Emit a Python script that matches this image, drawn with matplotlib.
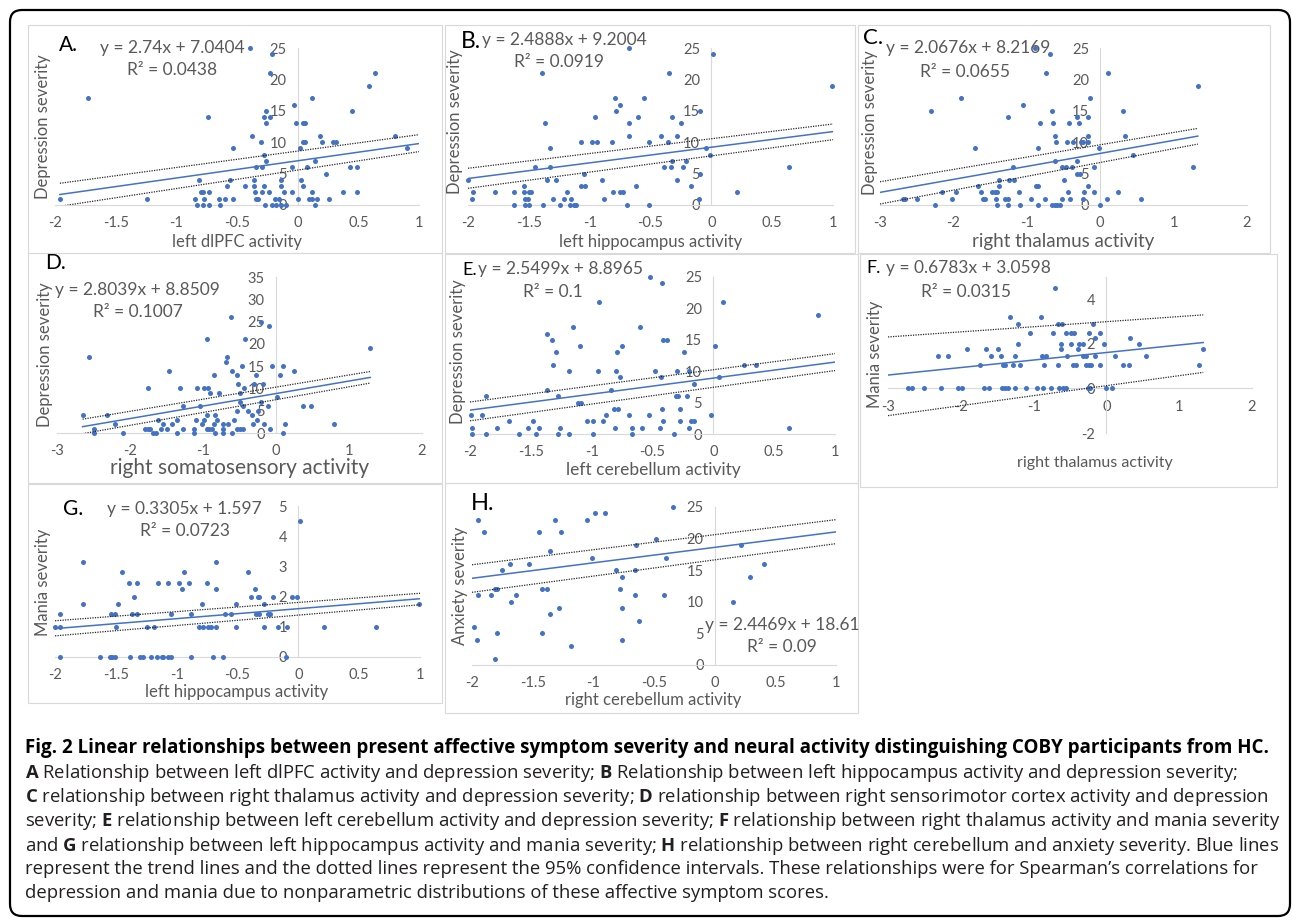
import matplotlib
matplotlib.use('Agg')
import matplotlib.pyplot as plt
from matplotlib.patches import FancyBboxPatch, Rectangle
from matplotlib.ticker import FuncFormatter

plt.rcParams['font.family'] = ['Lato', 'DejaVu Sans']
plt.rcParams['mathtext.fontset'] = 'custom'
plt.rcParams['mathtext.rm'] = 'Open Sans'
plt.rcParams['mathtext.bf'] = 'Open Sans:bold'

# ---- data ----
# A: left dlPFC vs depression
a_x = [-0.39, -0.21, -0.23, 0.64, 0.59, -1.73, 0.12, -0.03, -0.26, 0.45,
       -0.74, -0.28, -0.23, -0.26, -0.01, 0.04, 0.06, -0.38, 0.18, 0.80,
       -0.30, 0.04, 0.06, 0.20, 0.29, 0.32, -0.53, 0.02, 0.90, -0.28,
       -0.26, 0.14, -0.34, -0.29, -0.05, 0.08, 0.43, 0.49, 0.23, -0.81,
       -0.56, -0.36, -0.14, 0.03, -0.58, -0.43, -0.36, -0.28, -0.14, 0.04,
       -0.80, -0.78, -0.73, -0.35, -0.29, -0.24, -0.11, -0.05, 0.12, 0.37, 0.49,
       -1.96, -1.24, -0.85, -0.77, -0.65, -0.60, -0.53, -0.34, -0.33, -0.19, -0.15, 0.0, 0.09, 0.12, 0.16, 0.26,
       -0.83, -0.78, -0.73, -0.64, -0.27, -0.21, -0.18, -0.14, -0.10, 0.14]
a_y = [25, 24, 21, 21, 19, 17, 17, 16, 15, 15,
       14, 14, 14, 13, 13, 13, 13, 11, 11, 11,
       10, 10, 10, 10, 10, 10, 9, 9, 9, 8,
       7, 7, 6, 6, 6, 6, 6, 6, 5, 4,
       4, 4, 4, 4, 3, 3, 3, 3, 3, 3,
       2, 2, 2, 2, 2, 2, 2, 2, 2, 2, 2,
       1, 1, 1, 1, 1, 1, 1, 1, 1, 1, 1, 1, 1, 1, 1, 1,
       0, 0, 0, 0, 0, 0, 0, 0, 0, 0]

# B: left hippocampus vs depression
b_x = [-0.68, 0.01, -1.39, -0.35, 0.99, -0.79, -0.55, -0.75, -0.78, -0.09,
       -0.96, -0.60, -0.32, -1.37, -0.68, -0.25, -0.68, -0.41, -0.28,
       -1.07, -0.98, -0.94, -0.82, -0.51, -0.36, -1.33, -0.04, -0.01, -0.32, -0.21,
       -1.45, -1.33, -0.39, -0.33, -0.23, 0.64, -1.05, -0.09,
       -2.0, -1.35, -1.28, -0.90, -0.28, -1.54, -1.07, -1.04, -0.62, -0.17,
       -1.96, -1.78, -1.62, -1.54, -1.50, -1.48, -1.19, -0.81, -0.75, -0.73, 0.21,
       -1.97, -1.53, -1.51, -1.30, -1.21, -1.15, -0.88, -0.10,
       -1.62, -1.53, -1.50, -1.38, -1.24, -1.16, -1.13, -1.11, -0.69, -0.51]
b_y = [25, 24, 21, 21, 19, 17, 17, 16, 15, 15,
       14, 14, 14, 13, 13, 13, 11, 11, 11,
       10, 10, 10, 10, 10, 10, 9, 9, 8, 7, 7,
       6, 6, 6, 6, 6, 6, 5, 5,
       4, 4, 4, 4, 4, 3, 3, 3, 3, 3,
       2, 2, 2, 2, 2, 2, 2, 2, 2, 2, 2,
       1, 1, 1, 1, 1, 1, 1, 1,
       0, 0, 0, 0, 0, 0, 0, 0, 0, 0]

# C: right thalamus vs depression
c_x = [-0.89, -0.68, -0.74, 0.11, 1.33, -1.90, -0.14, -1.05, -2.30, -0.66, 0.31,
       -1.25, -0.32, -0.16, -0.82, -0.64, -0.42, -0.29, -0.61, -0.17, 0.34,
       -0.60, -0.45, -0.37, -0.26, -0.23, -0.16, -1.70, -0.85, -0.02, 0.45, -0.61, -0.32,
       -1.19, -0.52, -0.47, -0.38, -0.08, 1.27, -0.31, -0.27,
       -1.38, -1.24, -1.17, -0.49, -1.66, -1.38, -0.88, -0.85, -0.16,
       -2.15, -1.97, -1.63, -1.48, -1.43, -1.40, -1.10, -0.44, -0.22, -0.09, 0.24,
       -2.68, -2.66, -2.49, -2.02, -1.60, -1.57, -1.42, -1.30, -1.25, -0.94, -0.75, -0.52, -0.41, -0.23, 0.09, 0.55,
       -2.25, -1.41, -1.26, -1.09, -0.85, -0.66, -0.62, -0.59, -0.55, 0.0]
c_y = [25, 24, 21, 21, 19, 17, 17, 16, 15, 15, 15,
       14, 14, 14, 13, 13, 13, 13, 11, 11, 11,
       10, 10, 10, 10, 10, 10, 9, 9, 9, 8, 7, 7,
       6, 6, 6, 6, 6, 6, 5, 5,
       4, 4, 4, 4, 3, 3, 3, 3, 3,
       2, 2, 2, 2, 2, 2, 2, 2, 2, 2, 2,
       1, 1, 1, 1, 1, 1, 1, 1, 1, 1, 1, 1, 1, 1, 1, 1,
       0, 0, 0, 0, 0, 0, 0, 0, 0, 0]

# D: right somatosensory vs depression
d_x = [-0.61, -0.21, -0.10, -0.95, -0.42, 1.29, -2.56, -0.67, -0.69,
       -0.47, -0.05, 0.10, -1.47, -0.60, 0.24, -0.85, -0.54, -0.27, 0.06,
       -0.52, -0.30, -0.18, -1.76, -1.31, -1.08, -0.98, -0.93, -0.44,
       -0.91, -0.78, -0.49, 0.02, -0.50, -0.21,
       -1.28, -1.04, -0.45, -0.11, 0.37, 0.48, -0.53, -0.38, -0.25,
       -2.65, -2.32, -0.94, -0.84, -0.33,
       -1.61, -1.36, -1.10, -0.98, -0.81, -0.57, -0.26,
       -2.21, -1.55, -1.42, -1.01, -0.85, -0.73, -0.66, -0.32, -0.17, 0.13, 0.80,
       -2.50, -1.80, -1.76, -1.72, -1.57, -1.50, -1.28, -1.12, -0.94, -0.92, -0.88, -0.73, -0.53, -0.49, -0.45, -0.08,
       -2.50, -2.09, -1.68, -1.65, -1.36, -1.12, -0.83, -0.72, -0.60, 0.09]
d_y = [26, 25, 24, 21, 21, 19, 17, 17, 16,
       15, 15, 15, 14, 14, 14, 13, 13, 13, 13,
       11, 11, 11, 10, 10, 10, 10, 10, 10,
       9, 9, 9, 8, 7, 7,
       6, 6, 6, 6, 6, 6, 5, 5, 5,
       4, 4, 4, 4, 4,
       3, 3, 3, 3, 3, 3, 3,
       2, 2, 2, 2, 2, 2, 2, 2, 2, 2, 2,
       1, 1, 1, 1, 1, 1, 1, 1, 1, 1, 1, 1, 1, 1, 1, 1,
       0, 0, 0, 0, 0, 0, 0, 0, 0, 0]

# E: left cerebellum vs depression
e_x = [-0.52, -0.42, -0.94, 0.08, 0.86, -1.15, -0.60, -1.37,
       -1.33, -0.41, -0.38, -1.10, -0.75, 0.01, -1.29, -0.79, -0.24,
       -1.32, 0.25, 0.35, -1.19, -0.95, -0.80, -0.48, -0.30, -0.20,
       -0.77, -0.43, 0.05, -0.16, -1.37, -0.84,
       -1.87, -1.28, -0.31, -0.29, -0.22, -1.11, -1.09,
       -0.82, -0.78, -0.42, -0.27, -1.99, -1.90, -0.88, -0.69, -0.53, -0.02,
       -1.68, -1.48, -1.04, -0.99, -0.91, -0.41, -0.27, -0.18, -0.16,
       -1.98, -1.78, -1.52, -1.43, -1.26, -0.81, -0.67, -0.59, -0.44, -0.20, 0.62,
       -1.98, -1.87, -1.60, -1.46, -1.28, -1.19, -0.99, -0.67, -0.32]
e_y = [25, 24, 21, 21, 19, 17, 17, 16,
       15, 15, 15, 14, 14, 14, 13, 13, 13,
       11, 11, 11, 10, 10, 10, 10, 10, 10,
       9, 9, 9, 8, 7, 7,
       6, 6, 6, 6, 6, 5, 5,
       4, 4, 4, 4, 3, 3, 3, 3, 3, 3,
       2, 2, 2, 2, 2, 2, 2, 2, 2,
       1, 1, 1, 1, 1, 1, 1, 1, 1, 1, 1,
       0, 0, 0, 0, 0, 0, 0, 0, 0]

# F: right thalamus vs mania
f_x = [-0.70, -1.33, -0.90, -1.21, -0.66, -0.61, -0.18,
       -1.05, -0.74, -0.55, -0.49, -0.44, -0.24, -0.09, -0.16, 0.33,
       -1.22, -0.63, -0.48, -0.38, -0.32, -0.03, 0.45,
       -1.92, -1.65, -1.49, -0.63, -0.39, 1.33,
       -2.32, -2.17, -1.58, -1.45, -1.26, -0.88, -0.83, -0.54, -0.32, -0.28, -0.15, 0.12, 0.55,
       -1.73, -1.42, -1.39, -1.28, -1.19, -0.86, -0.67, -0.46, -0.42, -0.28, -0.24, -0.21, -0.09, 0.23, 0.31, 1.27,
       -2.72, -2.67, -2.51, -2.27, -2.04, -1.99, -1.68, -1.61, -1.43, -1.39, -1.35, -1.25,
       -1.11, -0.96, -0.87, -0.76, -0.65, -0.60, -0.55, -0.25, -0.23, 0.0, 0.08]
f_y = [4.5, 3.2, 3.2, 2.9, 2.9, 2.9, 2.9,
       2.5, 2.5, 2.5, 2.5, 2.5, 2.5, 2.5, 2.25, 2.25,
       2.0, 2.0, 2.0, 2.0, 2.0, 2.0, 2.0,
       1.75, 1.75, 1.75, 1.75, 1.75, 1.75,
       1.45, 1.45, 1.45, 1.45, 1.45, 1.45, 1.45, 1.45, 1.45, 1.45, 1.45, 1.45, 1.45,
       1.05, 1.05, 1.05, 1.05, 1.05, 1.05, 1.05, 1.05, 1.05, 1.05, 1.05, 1.05, 1.05, 1.05, 1.05, 1.05,
       0, 0, 0, 0, 0, 0, 0, 0, 0, 0, 0, 0,
       0, 0, 0, 0, 0, 0, 0, 0, 0, 0, 0]

# G: left hippocampus vs mania
g_x = [0.01, -1.77, -0.68, -1.45, -0.94, -0.41,
       -1.39, -1.33, -1.15, -1.07, -0.98, -0.90, -0.75, -0.96, -0.68, -0.36,
       -1.35, -0.39, -0.33, -0.32, -0.21, -0.05, -0.01,
       -1.77, -1.48, -0.79, -0.51, -0.28, 0.99,
       -1.96, -1.54, -1.51, -1.37, -1.33, -1.05, -0.88, -0.60, -0.55, -0.35, -0.32, -0.25, -0.23,
       -2.0, -1.96, -1.50, -1.24, -1.19, -0.82, -0.78, -0.74, -0.72, -0.68, -0.51, -0.28, -0.17, -0.09, 0.21, 0.64,
       -1.96, -1.63, -1.55, -1.53, -1.51, -1.38, -1.30, -1.28, -1.21,
       -1.16, -1.12, -1.11, -1.07, -1.05, -0.88, -0.70, -0.62, -0.10]
g_y = [4.5, 3.15, 3.15, 2.83, 2.83, 2.83,
       2.45, 2.45, 2.45, 2.45, 2.45, 2.45, 2.45, 2.25, 2.25, 2.25,
       2.0, 2.0, 2.0, 2.0, 2.0, 2.0, 2.0,
       1.75, 1.75, 1.75, 1.75, 1.75, 1.75,
       1.42, 1.42, 1.42, 1.42, 1.42, 1.42, 1.42, 1.42, 1.42, 1.42, 1.42, 1.42, 1.42,
       1, 1, 1, 1, 1, 1, 1, 1, 1, 1, 1, 1, 1, 1, 1, 1,
       0, 0, 0, 0, 0, 0, 0, 0, 0,
       0, 0, 0, 0, 0, 0, 0, 0, 0]

# H: right cerebellum vs anxiety
h_x = [-0.34, -0.99, -0.90, -1.95, -1.32, -1.05, -1.90, -1.45, -1.27, -0.48,
       -0.65, 0.22, -1.36, -1.01, -0.40, -1.69, -1.53, 0.41, -1.75, -0.81,
       -0.66, -0.76, 0.29, -1.81, -1.79, -1.42, -1.38, -0.78, -1.95, -1.84,
       -1.64, -0.66, -0.42, -1.68, 0.15, -1.28, -0.76, -1.36, -0.62, -1.98,
       -1.79, -1.42, -1.96, -0.76, -1.18, -1.81]
h_y = [25, 24, 24, 23, 23, 23, 21, 21, 21, 20,
       19, 19, 18, 17, 17, 16, 16, 16, 15, 15,
       15, 14, 14, 12, 12, 12, 12, 12, 11, 11,
       11, 11, 11, 10, 10, 9, 9, 8, 7, 6,
       5, 5, 4, 4, 3, 1]

# trend line and dotted 95% CI lines: x ends and y at those ends, per panel A..H
line_x = [[-1.96, 1.0], [-2.0, 1.0], [-3.0, 1.33], [-2.65, 1.29],
          [-2.0, 1.0], [-3.0, 1.33], [-2.0, 1.0], [-2.0, 1.0]]
trend_y = [[1.67, 9.78], [4.22, 11.69], [2.01, 10.97], [1.42, 12.47],
           [3.80, 11.45], [0.60, 2.06], [0.94, 1.93], [13.72, 21.06]]
ci_hi = [[3.46, 11.2], [5.85, 12.9], [3.7, 12.2], [3.1, 13.8],
         [5.1, 12.8], [2.31, 3.3], [1.2, 2.11], [15.86, 23.0]]
ci_lo = [[-0.2, 8.5], [2.66, 10.4], [0.16, 9.7], [-0.15, 11.2],
         [2.1, 10.1], [-1.22, 0.72], [0.70, 1.73], [11.5, 19.2]]

letters = ['A.', 'B.', 'C.', 'D.', 'E.', 'F.', 'G.', 'H.']
equations = ['y = 2.74x + 7.0404', 'y = 2.4888x + 9.2004', 'y = 2.0676x + 8.2169',
             'y = 2.8039x + 8.8509', 'y = 2.5499x + 8.8965', 'y = 0.6783x + 3.0598',
             'y = 0.3305x + 1.597', 'y = 2.4469x + 18.61']
r_squared = ['R² = 0.0438', 'R² = 0.0919', 'R² = 0.0655', 'R² = 0.1007',
             'R² = 0.1', 'R² = 0.0315', 'R² = 0.0723', 'R² = 0.09']
x_titles = ['left dlPFC activity', 'left hippocampus activity', 'right thalamus activity',
            'right somatosensory activity', 'left cerebellum activity', 'right thalamus activity',
            'left hippocampus activity', 'right cerebellum activity']
y_titles = ['Depression severity'] * 5 + ['Mania severity', 'Mania severity', 'Anxiety severity']

caption_title = ('Fig. 2 Linear relationships between present affective symptom severity and '
                 'neural activity distinguishing COBY participants from HC.')
caption_lines = [
    r'$\mathbf{A}$ Relationship between left dlPFC activity and depression severity; '
    r'$\mathbf{B}$ Relationship between left hippocampus activity and depression severity;',
    r'$\mathbf{C}$ relationship between right thalamus activity and depression severity; '
    r'$\mathbf{D}$ relationship between right sensorimotor cortex activity and depression',
    r'severity; $\mathbf{E}$ relationship between left cerebellum activity and depression severity; '
    r'$\mathbf{F}$ relationship between right thalamus activity and mania severity',
    r'and $\mathbf{G}$ relationship between left hippocampus activity and mania severity; '
    r'$\mathbf{H}$ relationship between right cerebellum and anxiety severity. Blue lines',
    'represent the trend lines and the dotted lines represent the 95% confidence intervals. '
    'These relationships were for Spearman’s correlations for',
    'depression and mania due to nonparametric distributions of these affective symptom scores.',
]

# ---- layout (pixels) ----
W, H = 1292, 923
BLUE = '#4472C4'
GREY = '#595959'
AXLINE = '#d9d9d9'

panels = [
    # area = plot area x0, x1, ytop, ybottom in pixels
    dict(area=(55, 419, 48, 205), xlim=(-2, 1), ylim=(0, 25), xstep=0.5, ystep=5,
         box=(28, 25, 442, 253), letter=(59, 45, 15), eq=(172, 48), r2=(172, 70),
         ylab=(43, 127), xlab=(237, 242, 12)),
    dict(area=(468, 833, 48, 205), xlim=(-2, 1), ylim=(0, 25), xstep=0.5, ystep=5,
         box=(445, 25, 855, 253), letter=(461, 42, 16.5), eq=(564, 40), r2=(559, 62),
         ylab=(455, 122), xlab=(651, 242, 12)),
    dict(area=(880, 1247, 48, 205), xlim=(-3, 2), ylim=(0, 25), xstep=1, ystep=5,
         box=(858, 25, 1270, 253), letter=(863, 38, 16), eq=(968, 48), r2=(965, 72),
         ylab=(870, 123), xlab=(1063, 242, 13.5)),
    dict(area=(57, 422, 277, 433), xlim=(-3, 2), ylim=(0, 35), xstep=1, ystep=5,
         box=(28, 253, 442, 483), letter=(45, 263, 15), eq=(137, 290), r2=(138, 312),
         ylab=(45, 355), xlab=(240, 468, 15)),
    dict(area=(470, 835, 277, 434), xlim=(-2, 1), ylim=(0, 25), xstep=0.5, ystep=5,
         box=(445, 254, 858, 483), letter=(462, 270, 13), eq=(561, 269), r2=(553, 292),
         ylab=(458, 352), xlab=(653, 470, 12.5)),
    dict(area=(888, 1252, 277, 433), xlim=(-3, 2), ylim=(-2, 5), xstep=1, ystep=2,
         box=(860, 254, 1277, 487), letter=(866, 268, 13), eq=(968, 268), r2=(966, 292),
         ylab=(875, 354), xlab=(1095, 463, 11.5)),
    dict(area=(55, 420, 506, 657), xlim=(-2, 1), ylim=(0, 5), xstep=0.5, ystep=1,
         box=(28, 484, 442, 703), letter=(63, 509, 15), eq=(184, 509), r2=(185, 531),
         ylab=(43, 582), xlab=(237, 692, 12)),
    dict(area=(472, 836, 507, 665), xlim=(-2, 1), ylim=(0, 25), xstep=0.5, ystep=5,
         box=(445, 483, 858, 713), letter=(471, 503, 17), eq=(782, 625), r2=(782, 647),
         ylab=(460, 586), xlab=(653, 700, 12)),
]
xs = [a_x, b_x, c_x, d_x, e_x, f_x, g_x, h_x]
ys = [a_y, b_y, c_y, d_y, e_y, f_y, g_y, h_y]

fig = plt.figure(figsize=(W / 100, H / 100), dpi=100)
bg = fig.add_axes([0, 0, 1, 1])
bg.set_xlim(0, W)
bg.set_ylim(H, 0)
bg.axis('off')

bg.add_patch(FancyBboxPatch((10, 10), 1280, 906, boxstyle='round,pad=0,rounding_size=12',
                            fc='white', ec='black', lw=1.6))

fmt = FuncFormatter(lambda v, pos: '{:g}'.format(round(v, 2)))

for i, p in enumerate(panels):
    bx0, by0, bx1, by1 = p['box']
    bg.add_patch(Rectangle((bx0, by0), bx1 - bx0, by1 - by0, fill=False, ec=AXLINE, lw=0.8))

    lx, ly, lsize = p['letter']
    bg.text(lx, ly, letters[i], fontsize=lsize, color='black', ha='left', va='center')
    bg.text(*p['eq'], equations[i], fontsize=12.5, color=GREY, ha='center', va='center')
    bg.text(*p['r2'], r_squared[i], fontsize=12.5, color=GREY, ha='center', va='center')
    bg.text(*p['ylab'], y_titles[i], fontsize=12, color=GREY, ha='center', va='center', rotation=90)
    tx, ty, tsize = p['xlab']
    bg.text(tx, ty, x_titles[i], fontsize=tsize, color=GREY, ha='center', va='center')

    x0, x1, yt, yb = p['area']
    ax = fig.add_axes([x0 / W, 1 - yb / H, (x1 - x0) / W, (yb - yt) / H])
    ax.set_facecolor('none')
    ax.plot(xs[i], ys[i], 'o', ms=3.6, color=BLUE, mec='none', clip_on=False, zorder=3)
    ax.plot(line_x[i], trend_y[i], color=BLUE, lw=1.1, zorder=4)
    ax.plot(line_x[i], ci_hi[i], color='#262626', lw=0.9, ls=(0, (1, 1)), zorder=4)
    ax.plot(line_x[i], ci_lo[i], color='#262626', lw=0.9, ls=(0, (1, 1)), zorder=4)

    ax.set_xlim(*p['xlim'])
    ax.set_ylim(*p['ylim'])
    nx = int(round((p['xlim'][1] - p['xlim'][0]) / p['xstep']))
    ny = int((p['ylim'][1] - p['ylim'][0]) // p['ystep'])
    ax.set_xticks([p['xlim'][0] + k * p['xstep'] for k in range(nx + 1)])
    ax.set_yticks([p['ylim'][0] + k * p['ystep'] for k in range(ny + 1)])
    ax.xaxis.set_major_formatter(fmt)
    ax.yaxis.set_major_formatter(fmt)
    for s in ['top', 'right']:
        ax.spines[s].set_visible(False)
    for s in ['left', 'bottom']:
        ax.spines[s].set_position(('data', 0))
        ax.spines[s].set_color(AXLINE)
        ax.spines[s].set_linewidth(0.8)
    ax.tick_params(length=0, labelsize=10.5, labelcolor=GREY, pad=8)

# caption
bg.text(25, 745, caption_title, fontsize=13.5, fontweight='bold', family='Open Sans',
        color='black', ha='left', va='center_baseline')
for k, line in enumerate(caption_lines):
    bg.text(25, 770 + 24.2 * k, line, fontsize=13.3, family='Open Sans',
            color='#231f20', ha='left', va='center_baseline')

fig.savefig('out.png', dpi=100)
